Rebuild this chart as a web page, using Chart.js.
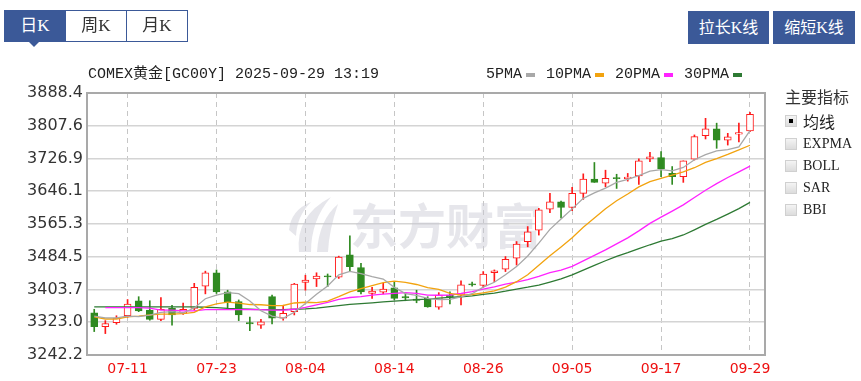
<!DOCTYPE html>
<html><head><meta charset="utf-8">
<script src="https://cdn.jsdelivr.net/npm/chart.js@4.4.1/dist/chart.umd.min.js"></script>
<style>
html,body{margin:0;padding:0;background:#fff;}
body{width:861px;height:381px;position:relative;overflow:hidden;font-family:"Liberation Serif","Noto Sans CJK SC",serif;}
#c{position:absolute;left:0;top:0;}
.tabs{position:absolute;left:4px;top:10px;height:32px;display:flex;border:1px solid #3b5998;box-sizing:border-box;}
.tab{width:61px;height:30px;line-height:30px;text-align:center;font-size:17px;color:#333;border-left:1px solid #3b5998;box-sizing:border-box;}
.tab.sel{border-left:none;background:#3b5998;color:#fff;position:relative;width:60px;}
.tab.sel:after{content:"";position:absolute;left:23px;top:30px;border-left:6px solid transparent;border-right:6px solid transparent;border-top:6px solid #3b5998;}
.btn{position:absolute;top:11px;height:33px;line-height:33px;background:#3b5998;color:#fff;font-size:16px;text-align:center;}
.title{position:absolute;left:88px;top:66px;font-family:"Liberation Mono","Noto Sans CJK SC",monospace;font-size:15px;color:#222;line-height:17px;white-space:nowrap;}
.legend{position:absolute;left:486px;top:66px;display:flex;font-family:"Liberation Mono",monospace;font-size:15px;color:#222;line-height:17px;white-space:nowrap;}
.lg{display:flex;align-items:center;margin-right:11px;}
.mk{display:inline-block;width:9px;height:4px;margin-left:4px;}
.panel{position:absolute;left:785px;top:87px;}
.ph{font-family:"Noto Sans CJK SC",sans-serif;font-size:16px;color:#333;line-height:18px;}
.row{position:absolute;left:0;height:22px;display:flex;align-items:center;white-space:nowrap;}
.cb{width:12px;height:12px;background:linear-gradient(#f4f4f4,#dcdcdc);border:1px solid #d0d0d0;box-sizing:border-box;position:relative;margin-right:6px;}
.cb.on:after{content:"";position:absolute;left:3px;top:3px;width:4px;height:4px;background:#000;}
.lb{font-size:14px;color:#222;}
.lb.cjk{font-family:"Noto Sans CJK SC",sans-serif;font-size:16px;}
</style>
</head><body>
<canvas id="c" width="861" height="381" style="width:861px;height:381px"></canvas>
<div class="tabs"><div class="tab sel">日K</div><div class="tab">周K</div><div class="tab">月K</div></div>
<div class="btn" style="left:688px;width:81px">拉长K线</div>
<div class="btn" style="left:773px;width:82px">缩短K线</div>
<div class="title">COMEX黄金[GC00Y] 2025-09-29 13:19</div>
<div class="legend" id="legend"></div>
<div class="panel">
  <div class="ph">主要指标</div>
  <div class="row" style="top:23px"><span class="cb on"></span><span class="lb cjk">均线</span></div>
  <div class="row" style="top:46px"><span class="cb"></span><span class="lb">EXPMA</span></div>
  <div class="row" style="top:68px"><span class="cb"></span><span class="lb">BOLL</span></div>
  <div class="row" style="top:90px"><span class="cb"></span><span class="lb">SAR</span></div>
  <div class="row" style="top:112px"><span class="cb"></span><span class="lb">BBI</span></div>
</div>
<script>
const dates = ['07-08','07-09','07-10','07-11','07-14','07-15','07-16','07-17','07-18','07-21',
'07-22','07-23','07-24','07-25','07-28','07-29','07-30','07-31','08-01','08-04',
'08-05','08-06','08-07','08-08','08-11','08-12','08-13','08-14','08-15','08-18',
'08-19','08-20','08-21','08-22','08-25','08-26','08-27','08-28','08-29','09-01',
'09-02','09-03','09-04','09-05','09-08','09-09','09-10','09-11','09-12','09-15',
'09-16','09-17','09-18','09-19','09-22','09-23','09-24','09-25','09-26','09-29'];
const opens = [3346,3312,3322,3339,3376,3353,3330,3357,3345,3357,
3412,3445,3398,3374,3322,3316,3386,3333,3349,3421,
3430,3437,3434,3489,3458,3394,3397,3408,3386,3380,
3382,3360,3390,3390,3418,3414,3445,3454,3481,3522,
3550,3602,3620,3606,3641,3676,3666,3680,3677,3684,
3726,3729,3690,3682,3725,3783,3800,3772,3787,3795];
const highs = [3355,3327,3339,3379,3386,3376,3384,3365,3370,3419,
3449,3452,3402,3378,3336,3330,3390,3365,3419,3439,
3445,3442,3486,3536,3468,3409,3419,3423,3394,3402,
3386,3396,3398,3425,3422,3448,3452,3485,3522,3559,
3604,3641,3622,3656,3689,3717,3698,3688,3690,3726,
3742,3744,3707,3721,3785,3826,3814,3789,3814,3841];
const lows = [3300,3295,3318,3335,3349,3328,3327,3316,3342,3353,
3393,3394,3357,3327,3302,3308,3319,3328,3341,3402,
3411,3411,3431,3448,3393,3382,3393,3378,3376,3371,
3360,3355,3368,3366,3412,3409,3423,3448,3464,3509,
3538,3593,3580,3598,3626,3668,3657,3653,3671,3663,
3719,3682,3663,3668,3723,3775,3752,3760,3768,3793];
const closes = [3312,3320,3333,3368,3351,3330,3355,3341,3355,3409,
3445,3398,3374,3341,3319,3324,3333,3345,3417,3427,
3437,3435,3484,3460,3398,3400,3405,3382,3383,3377,
3361,3390,3386,3415,3415,3442,3450,3478,3516,3546,
3600,3620,3606,3641,3676,3668,3678,3677,3681,3721,
3731,3701,3682,3721,3781,3800,3772,3780,3791,3836];
const ma5 = [3338,3334,3334,3338,3336.8,3340.4,3347.4,3349.0,3346.4,3358.0,
3381.0,3389.6,3396.2,3393.4,3375.4,3351.2,3338.2,3332.4,3347.6,3369.2,
3391.8,3412.2,3440.0,3448.6,3442.8,3435.4,3429.4,3409.0,3393.6,3389.4,
3381.6,3378.6,3379.4,3385.8,3393.4,3409.6,3421.6,3440.0,3460.2,3486.4,
3518.0,3552.0,3577.6,3602.6,3628.6,3642.2,3653.8,3668.0,3675.6,3684.6,
3695.8,3699.4,3696.2,3704.8,3723.8,3736.2,3745.4,3748.8,3755.4,3795.8];
const ma10 = [3336,3331,3331,3336,3338,3341,3343,3343,3344,3347.4,
3360.7,3368.5,3372.6,3369.9,3366.7,3366.1,3363.9,3364.3,3370.5,3372.3,
3371.5,3375.2,3386.2,3398.1,3406.0,3413.6,3420.8,3424.5,3421.1,3416.1,
3408.5,3404.0,3394.2,3389.7,3391.4,3395.6,3400.1,3409.7,3423.0,3439.9,
3463.8,3486.8,3508.8,3531.4,3557.5,3580.1,3602.9,3622.8,3639.3,3656.8,
3669.9,3678.0,3685.6,3693.6,3704.1,3717.3,3726.7,3737.0,3748.0,3759.5];
const ma20 = [null,3359,3359,3359,3359,3358,3353,3353,3351,3351,
3354,3354,3354,3354,3354,3354,3353,3353,3355,3359.9,
3366.1,3371.9,3379.4,3384.0,3386.4,3389.9,3392.4,3394.4,3395.8,3394.2,
3390.0,3389.6,3390.2,3393.9,3398.7,3404.6,3410.5,3417.1,3422.1,3428.0,
3436.2,3445.4,3451.5,3460.6,3474.5,3487.9,3501.5,3516.3,3531.2,3548.4,
3566.9,3582.4,3597.2,3612.5,3630.8,3648.7,3664.8,3679.9,3693.7,3708.2];
const ma30 = [3361,3361,3361,3361,3361,3361,3361,3361,3361,3361,
3360,3359,3357,3356,3355,3354,3354,3354,3355,3356,
3358,3361,3364,3367,3369,3371,3373,3375,3377,3378.6,
3380.2,3382.6,3384.3,3385.9,3388.0,3391.8,3394.9,3399.5,3404.9,3409.4,
3414.6,3422.0,3429.7,3439.7,3451.6,3463.1,3474.6,3485.7,3494.5,3504.3,
3514.1,3522.9,3529.5,3538.2,3551.0,3564.3,3576.6,3589.8,3603.4,3618.7];
const xTickLabels = ['07-11','07-23','08-04','08-14','08-26','09-05','09-17','09-29'];
const yTicks = [3242.2,3323.0,3403.7,3484.5,3565.3,3646.1,3726.9,3807.6,3888.4];
const maNames = ['5PMA','10PMA','20PMA','30PMA'];
const maColors = ['#a8a8a8','#f2a30f','#ff22ff','#2e7a34'];
const WATERMARK = '东方财富';

const RED = '#ff1a1a', GREEN = '#2f8a21';
const up = i => closes[i] >= opens[i];

// legend
const lgEl = document.getElementById('legend');
maNames.forEach((n,k)=>{
  const d = document.createElement('div'); d.className='lg';
  d.innerHTML = '<span>'+n+'</span><span class="mk" style="background:'+maColors[k]+'"></span>';
  lgEl.appendChild(d);
});

const maSets = [ma5,ma10,ma20,ma30].map((arr,k)=>({
  type:'line', label:maNames[k],
  data: arr.map((v,i)=>({x:i,y:v})),
  borderColor: maColors[k], borderWidth:1.3, pointRadius:0, tension:0,
  spanGaps:false, order:0
}));

const bodySet = {
  type:'bar', label:'body',
  data: dates.map((d,i)=>({x:i,y:[opens[i],closes[i]]})),
  barThickness:7, grouped:false, borderSkipped:false, minBarLength:1,
  backgroundColor: c => up(c.dataIndex) ? '#ffffff' : GREEN,
  borderColor: c => up(c.dataIndex) ? RED : GREEN,
  borderWidth:1, order:1
};
const wickSet = {
  type:'bar', label:'wick',
  data: dates.map((d,i)=>({x:i,y:[lows[i],highs[i]]})),
  barThickness:1, grouped:false, borderSkipped:false,
  backgroundColor: c => up(c.dataIndex) ? RED : GREEN,
  borderWidth:0, order:2
};

const decor = {
  id:'decor',
  beforeDatasetsDraw(chart){
    const {ctx, chartArea:a} = chart;
    const cx = (a.left+a.right)/2, cy = (a.top+a.bottom)/2;
    ctx.save();
    ctx.fillStyle = 'rgba(200,200,210,0.45)';
    ctx.font = 'bold 48px "Noto Sans CJK SC"';
    ctx.textBaseline = 'middle';
    ctx.textAlign = 'left';
    ctx.fillText(WATERMARK, cx-76, cy+2);
    const lx = cx-137, ly = cy;
    ctx.beginPath();
    ctx.moveTo(lx+10, ly+28);
    ctx.quadraticCurveTo(lx+6, ly-8, lx+42, ly-27);
    ctx.quadraticCurveTo(lx+22, ly-4, lx+22, ly+28);
    ctx.closePath(); ctx.fill();
    ctx.beginPath();
    ctx.moveTo(lx, ly+6);
    ctx.quadraticCurveTo(lx+2, ly-14, lx+22, ly-22);
    ctx.quadraticCurveTo(lx+8, ly-8, lx+7, ly+12);
    ctx.closePath(); ctx.fill();
    ctx.beginPath();
    ctx.moveTo(lx+28, ly+28);
    ctx.quadraticCurveTo(lx+30, ly-4, lx+49, ly-20);
    ctx.quadraticCurveTo(lx+40, ly+6, lx+39, ly+28);
    ctx.closePath(); ctx.fill();
    ctx.strokeStyle = '#a9a9a9';
    ctx.lineWidth = 2;
    ctx.strokeRect(a.left, a.top, a.right-a.left, a.bottom-a.top);
    ctx.restore();
  }
};

new Chart(document.getElementById('c'), {
  type:'bar',
  data:{ datasets:[...maSets, bodySet, wickSet] },
  plugins:[decor],
  options:{
    responsive:false, animation:false, devicePixelRatio:1,
    layout:{padding:{left:0, top:93, right:96, bottom:0}},
    plugins:{legend:{display:false}, tooltip:{enabled:false}},
    scales:{
      x:{
        type:'linear', offset:false, min:-0.65, max:dates.length+0.35,
        afterBuildTicks: s => { s.ticks = xTickLabels.map(l=>({value:dates.indexOf(l)})); },
        afterFit: s => { s.height = 26; },
        ticks:{ callback: v => dates[v], color:'#ee1111', font:{family:'DejaVu Sans', size:14}, padding:6, autoSkip:false, maxRotation:0 },
        grid:{ color:'#c6c6c6', lineWidth:1, drawTicks:false, offset:false },
        border:{ display:false, dash:[5,4] }
      },
      y:{
        type:'linear', min:yTicks[0], max:yTicks[yTicks.length-1],
        afterBuildTicks: s => { s.ticks = yTicks.map(v=>({value:v})); },
        afterFit: s => { s.width = 87; },
        ticks:{ callback: v => Number(v).toFixed(1), color:'#333', font:{family:'DejaVu Sans', size:16}, padding:4 },
        grid:{ color:'#d4d4d4', lineWidth:1.5, drawTicks:false },
        border:{ display:false }
      }
    }
  }
});
</script>
</body></html>
